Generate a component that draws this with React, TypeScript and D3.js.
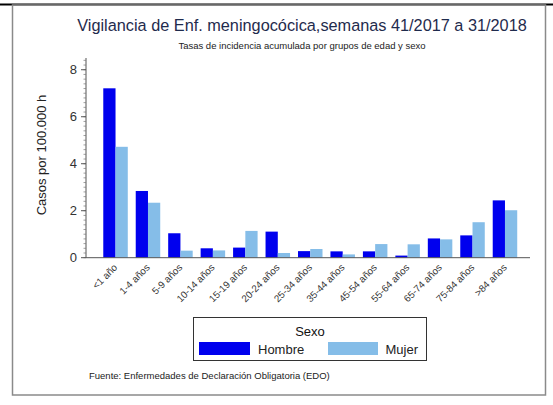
import React, { useEffect, useRef } from 'react';
import * as d3 from 'd3';

const categories = [
  '<1 año', '1-4 años', '5-9 años', '10-14 años', '15-19 años', '20-24 años', '25-34 años',
  '35-44 años', '45-54 años', '55-64 años', '65-74 años', '75-84 años', '>84 años',
];
const hombre = [7.21, 2.84, 1.04, 0.4, 0.43, 1.11, 0.28, 0.27, 0.27, 0.09, 0.82, 0.95, 2.44];
const mujer = [4.72, 2.34, 0.3, 0.31, 1.14, 0.2, 0.37, 0.14, 0.58, 0.57, 0.78, 1.51, 2.02];
const yTicks = [0, 2, 4, 6, 8];
const seriesNames = ['Hombre', 'Mujer'];
const seriesColors = ['#0000ee', '#85bde8'];

const W = 553;
const H = 405;
const font = '"Liberation Sans", Arial, sans-serif';

const App: React.FC = () => {
  const svgRef = useRef<SVGSVGElement | null>(null);

  useEffect(() => {
    if (!svgRef.current) return;
    const svg = d3.select(svgRef.current);
    svg.selectAll('*').remove();

    // frame
    svg.append('rect').attr('width', W).attr('height', H).attr('fill', '#ffffff');
    svg.append('line').attr('x1', 0).attr('x2', W).attr('y1', 4.5).attr('y2', 4.5)
      .attr('stroke', '#000').attr('stroke-width', 2);
    svg.append('rect').attr('x', 12.5).attr('y', 5).attr('width', 533).attr('height', 390)
      .attr('fill', 'none').attr('stroke', '#8a8a8a').attr('stroke-width', 1.5);

    const axisX = 86;
    const y = d3.scaleLinear().domain([0, 8.5]).range([257.7, 58]);
    const x = d3.scaleBand<string>().domain(categories).range([99.3, 521.2])
      .paddingInner(0.245).paddingOuter(0.1225);
    const x1 = d3.scaleBand<string>().domain(seriesNames).range([0, x.bandwidth()]);

    // titles
    svg.append('text').attr('x', 302).attr('y', 31).attr('text-anchor', 'middle')
      .attr('font-family', font).attr('font-size', 16.3).attr('fill', '#1f2b4d')
      .text('Vigilancia de Enf. meningocócica,semanas 41/2017 a 31/2018');
    svg.append('text').attr('x', 302).attr('y', 49).attr('text-anchor', 'middle')
      .attr('font-family', font).attr('font-size', 9.5).attr('fill', '#222')
      .text('Tasas de incidencia acumulada por grupos de edad y sexo');

    // bars
    const groups = svg.append('g').selectAll('g').data(categories).join('g')
      .attr('transform', d => `translate(${x(d)},0)`);
    groups.selectAll('rect')
      .data((_, i) => [hombre[i], mujer[i]].map((v, k) => ({ v, k })))
      .join('rect')
      .attr('x', d => x1(seriesNames[d.k]) ?? 0)
      .attr('width', x1.bandwidth())
      .attr('y', d => y(d.v))
      .attr('height', d => y(0) - y(d.v))
      .attr('fill', d => seriesColors[d.k]);

    // y axis
    const yAxis = svg.append('g');
    yAxis.append('line').attr('x1', axisX).attr('x2', axisX).attr('y1', y(8.5)).attr('y2', y(0))
      .attr('stroke', '#555');
    yAxis.selectAll('line.minor').data(d3.range(0, 8.51, 0.2)).join('line').attr('class', 'minor')
      .attr('x1', axisX - 2.5).attr('x2', axisX).attr('y1', d => y(d)).attr('y2', d => y(d))
      .attr('stroke', '#777').attr('stroke-width', 0.7);
    yAxis.selectAll('line.major').data(yTicks).join('line').attr('class', 'major')
      .attr('x1', axisX - 5).attr('x2', axisX).attr('y1', d => y(d)).attr('y2', d => y(d))
      .attr('stroke', '#555');
    yAxis.selectAll('text').data(yTicks).join('text')
      .attr('x', axisX - 9).attr('y', d => y(d)).attr('dy', '0.35em').attr('text-anchor', 'end')
      .attr('font-family', font).attr('font-size', 13).attr('fill', '#333')
      .text(d => String(d));
    svg.append('text').attr('transform', `translate(46,155) rotate(-90)`)
      .attr('text-anchor', 'middle').attr('font-family', font).attr('font-size', 13).attr('fill', '#222')
      .text('Casos por 100.000 h');

    // x axis
    svg.append('line').attr('x1', axisX).attr('x2', 530).attr('y1', y(0)).attr('y2', y(0))
      .attr('stroke', '#555');
    svg.append('g').selectAll('text').data(categories).join('text')
      .attr('transform', d => `translate(${(x(d) ?? 0) + x.bandwidth() / 2},${y(0) + 8}) rotate(-45)`)
      .attr('text-anchor', 'end').attr('dy', '0.35em')
      .attr('font-family', font).attr('font-size', 9.8).attr('fill', '#333')
      .text(d => d);

    // legend
    const lg = svg.append('g');
    lg.append('rect').attr('x', 193.5).attr('y', 317.5).attr('width', 233).attr('height', 43)
      .attr('fill', '#fff').attr('stroke', '#333');
    lg.append('text').attr('x', 310).attr('y', 336).attr('text-anchor', 'middle')
      .attr('font-family', font).attr('font-size', 13).attr('fill', '#111').text('Sexo');
    lg.append('rect').attr('x', 199).attr('y', 342).attr('width', 51).attr('height', 13)
      .attr('fill', seriesColors[0]);
    lg.append('text').attr('x', 258).attr('y', 354).attr('font-family', font).attr('font-size', 13)
      .attr('fill', '#222').text(seriesNames[0]);
    lg.append('rect').attr('x', 328).attr('y', 342).attr('width', 50).attr('height', 13)
      .attr('fill', seriesColors[1]);
    lg.append('text').attr('x', 418).attr('y', 354).attr('text-anchor', 'end')
      .attr('font-family', font).attr('font-size', 13).attr('fill', '#222').text(seriesNames[1]);

    svg.append('text').attr('x', 89).attr('y', 379).attr('font-family', font).attr('font-size', 9.5)
      .attr('fill', '#222').text('Fuente: Enfermedades de Declaración Obligatoria (EDO)');
  }, []);

  return (
    <svg ref={svgRef} width={W} height={H}
      style={{ position: 'absolute', left: 0, top: 0, display: 'block' }} />
  );
};

export default App;
